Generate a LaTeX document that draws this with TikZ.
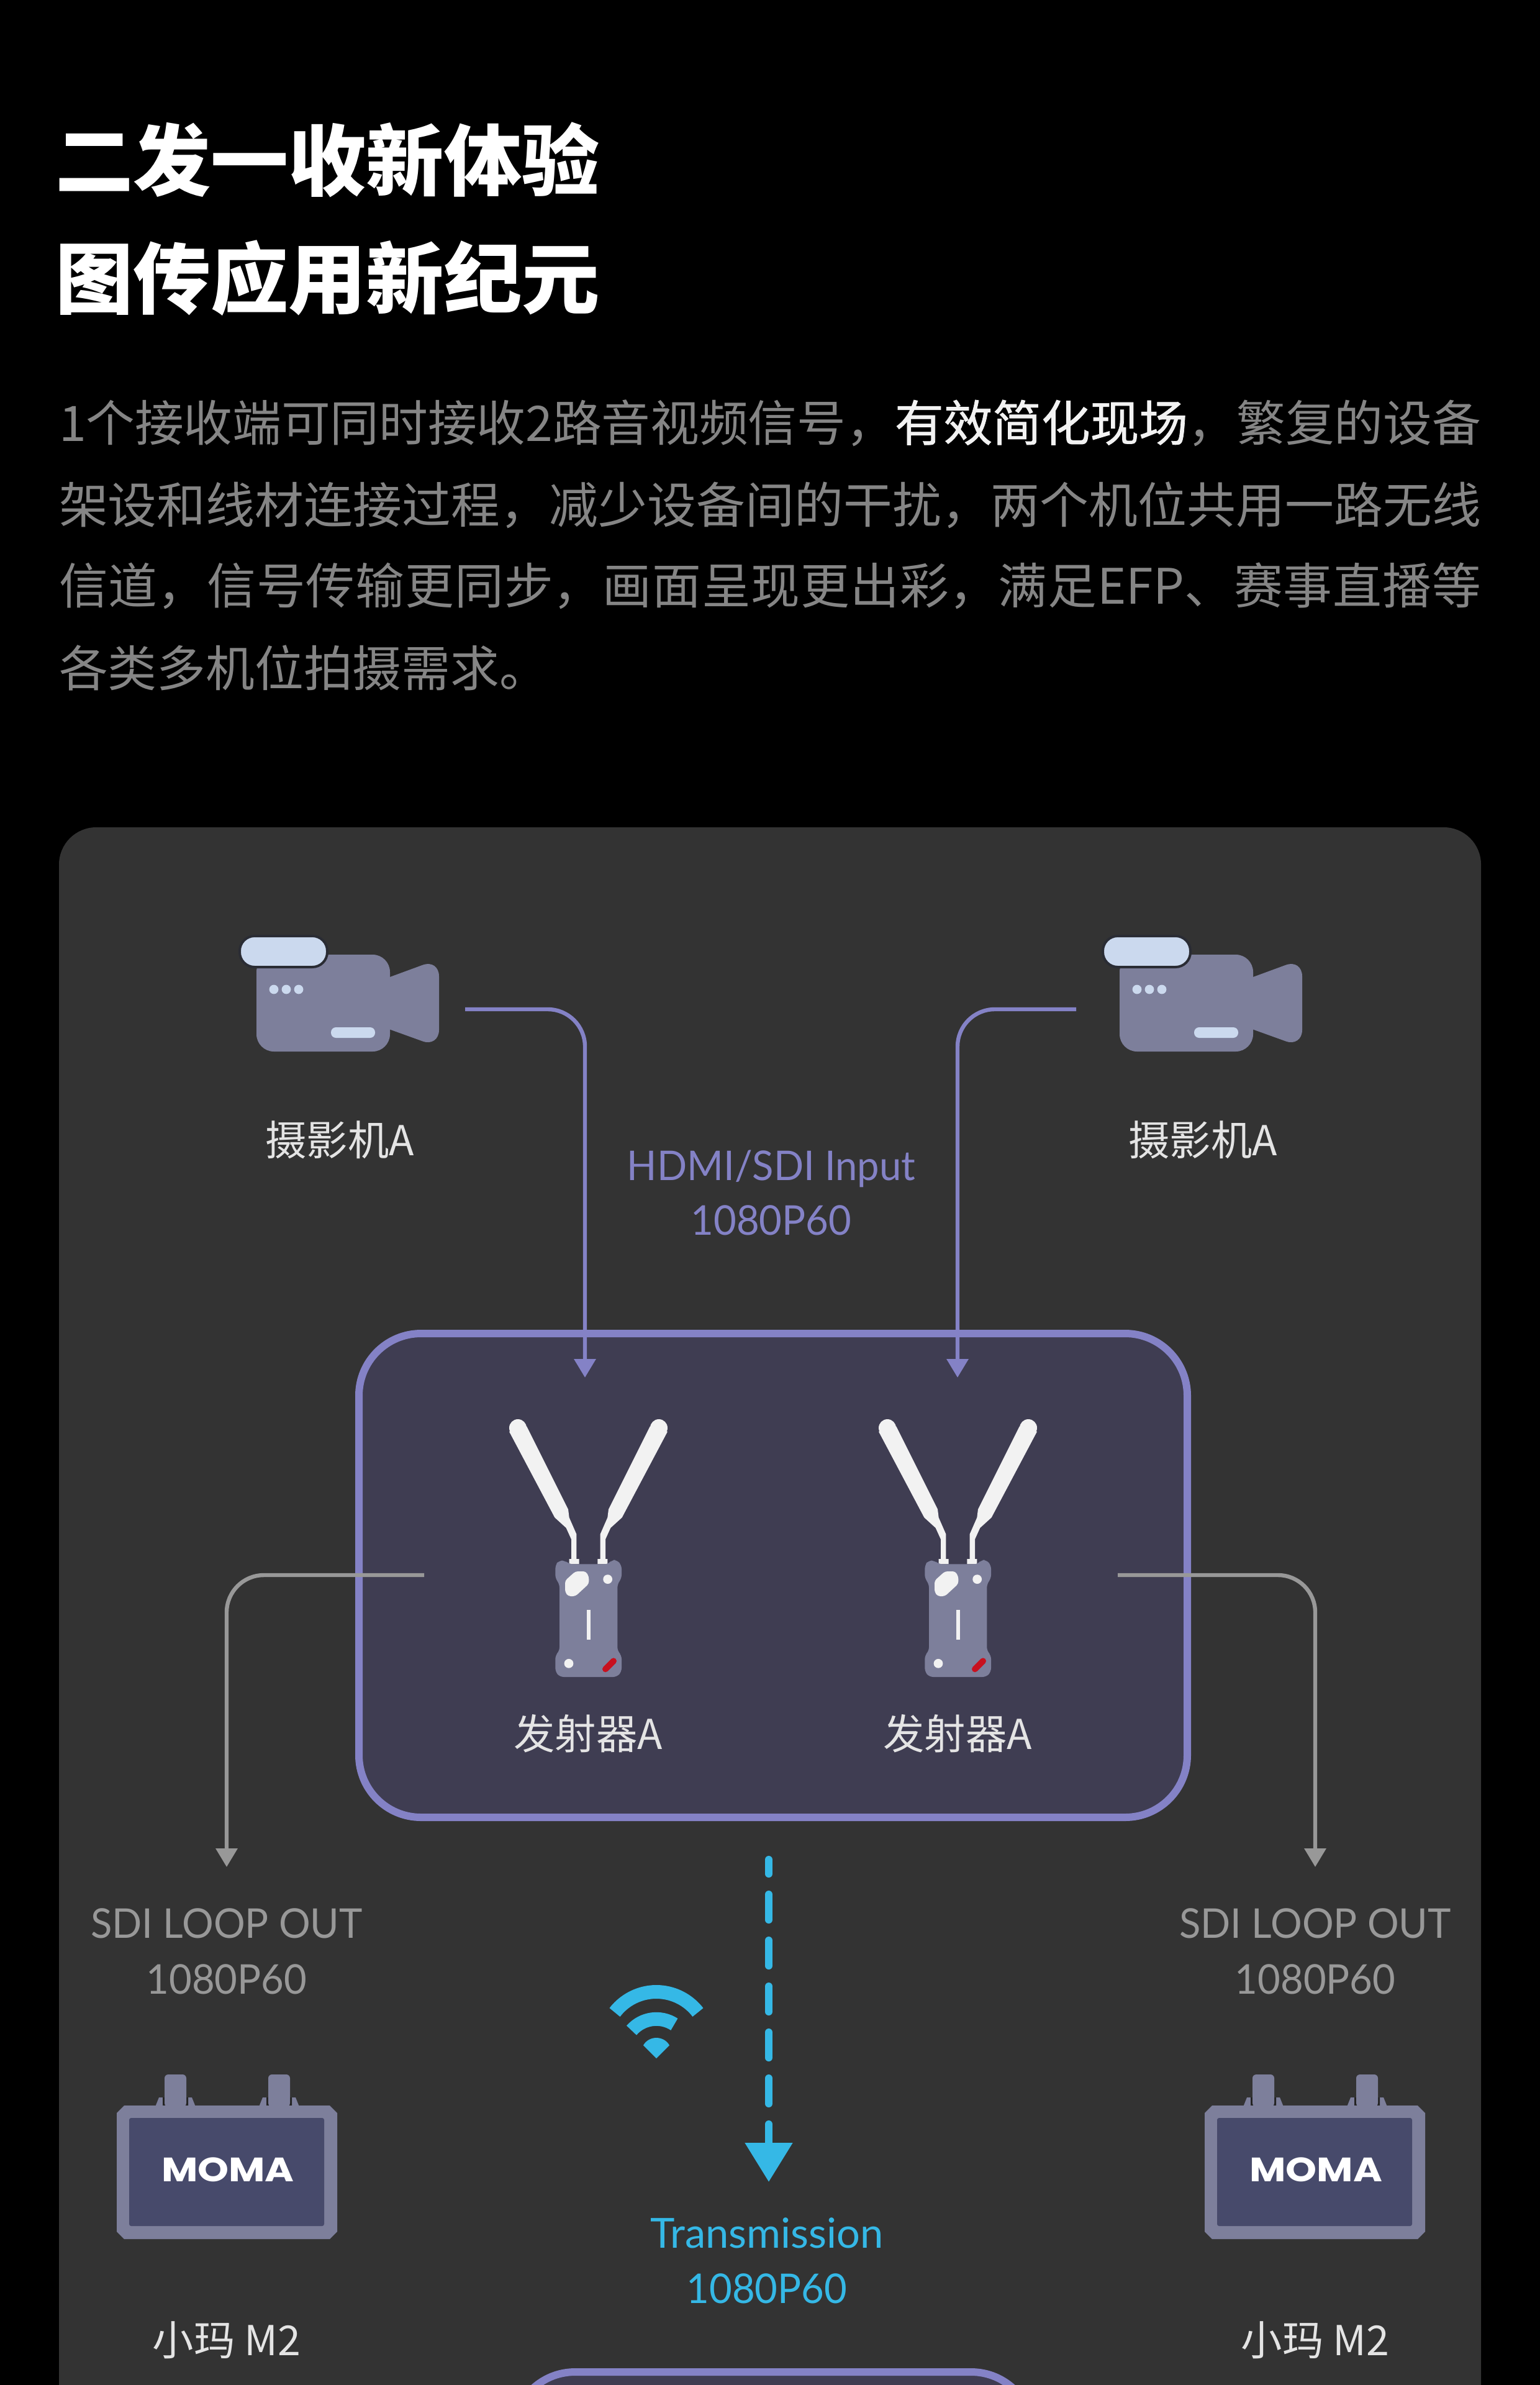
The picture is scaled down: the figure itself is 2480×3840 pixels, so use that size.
\documentclass[tikz,border=0pt]{standalone}
\usepackage{fontspec}
\usetikzlibrary{arrows.meta}
\setmainfont{Noto Sans CJK SC}
\newfontfamily\med[FakeBold=0.9]{Noto Sans CJK SC}
\newfontfamily\lat[FakeStretch=0.96]{Lato}
\newfontfamily\latw{Lato}
\newfontfamily\pop{Poppins}
\definecolor{panel}{HTML}{333333}
\definecolor{bodygrey}{HTML}{858585}
\definecolor{labelw}{HTML}{E4E4E4}
\definecolor{purp}{HTML}{8482C6}
\definecolor{boxfill}{HTML}{3F3D52}
\definecolor{greyl}{HTML}{989898}
\definecolor{sky}{HTML}{35B8E6}
\definecolor{dev}{HTML}{7D7F9B}
\definecolor{devlight}{HTML}{CBD9EE}
\definecolor{pillline}{HTML}{2A2C34}
\definecolor{momafill}{HTML}{474A6B}
\definecolor{antw}{HTML}{F2F2F2}
\definecolor{redm}{HTML}{C8101E}
\XeTeXlinebreaklocale "zh"
\XeTeXlinebreakskip=0pt plus 3pt minus 0.3pt
\newcommand{\bodyline}[1]{\parbox{572.5pt}{\parfillskip=0pt\noindent\fontsize{19.7pt}{24pt}\selectfont #1}}
\tikzset{
 every node/.style={inner sep=0pt,outer sep=0pt},
 titletext/.style={anchor=west,text=white,font=\fontsize{31.3pt}{36pt}\selectfont\bfseries},
 bodytext/.style={anchor=west,text=bodygrey},
 devlabel/.style={text=labelw,font=\fontsize{16.6pt}{20pt}\selectfont},
 purplabel/.style={text=purp,font=\lat\fontsize{16.5pt}{20pt}\selectfont},
 greylabel/.style={text=greyl,font=\lat\fontsize{16.5pt}{20pt}\selectfont},
 skylabel/.style={text=sky,font=\latw\fontsize{16.7pt}{20pt}\selectfont},
 purpflow/.style={draw=purp,line width=1.6pt,rounded corners=15pt,-{Triangle[width=8.5pt,length=7.5pt]}},
 greyflow/.style={draw=greyl,line width=1.6pt,rounded corners=15pt,-{Triangle[width=8.5pt,length=7.5pt]}},
 skyflow/.style={draw=sky,line width=3pt,line cap=round,dash pattern=on 10.25pt off 8.25pt,dash phase=4.5pt,-{Triangle[width=18.5pt,length=15.75pt]}},
 txbox/.style={draw=purp,fill=boxfill,line width=3pt,rounded corners=25pt},
}
% camera, coordinates in pixels of the reference
\newcommand{\CamIcon}[1]{\begin{scope}[shift={(#1,0)}]
 \fill[dev,rounded corners=7pt] (560,1598) -- (707,1544) -- (707,1686) -- (560,1633) -- cycle;
 \fill[dev,rounded corners=7pt] (413,1537) -- (628,1537) -- (628,1693) -- (413,1693) -- cycle;
 \fill[devlight,draw=pillline,line width=1pt,rounded corners=6pt] (386,1507) rectangle (527,1557);
 \fill[devlight] (441,1593) circle[radius=1.85pt] (461,1593) circle[radius=1.85pt] (481,1593) circle[radius=1.85pt];
 \fill[devlight,rounded corners=2pt] (533,1654) rectangle (604,1671);
\end{scope}}
% transmitter, coordinates in 1/3 pixels
\newcommand{\TxIcon}[1]{\begin{scope}[shift={(#1,2230)},x=0.08333pt,y=-0.08333pt]
 \foreach \m/\o in {1/0,-1/1005}{
 \begin{scope}[shift={(\o,0)},xscale=\m]
  \fill[antw] (120,225) -- (205,200) -- (405,600) -- (410,640) -- (445,720) -- (445,840) -- (458,840) -- (458,865) -- (410,865) -- (410,840) -- (420,840) -- (420,745) -- (395,690) -- (340,640) -- cycle;
  \fill[antw] (162,207) circle[radius=3.5pt];
 \end{scope}}
 \fill[dev,rounded corners=1.5pt] (343,870) -- (360,848) -- (390,848) -- (410,865) -- (600,865) -- (615,845) -- (640,845) -- (663,870) -- (663,935) -- (643,960) -- (643,1285) -- (663,1305) -- (663,1385) -- (640,1410) -- (365,1410) -- (343,1385) -- (343,1305) -- (363,1285) -- (363,960) -- (343,935) -- cycle;
 \fill[antw,rounded corners=1pt] (390,945) -- (440,900) -- (490,900) -- (505,925) -- (505,960) -- (440,1020) -- (405,1020) -- (390,1000) -- cycle;
 \fill[antw] (596,938) circle[radius=1.85pt] (408,1345) circle[radius=1.85pt];
 \fill[antw] (496,1085) rectangle (514,1230);
 \draw[redm,line width=2.5pt,line cap=round] (585,1372) -- (624,1333);
\end{scope}}
% recorder
\newcommand{\MomaIcon}[2]{\begin{scope}[shift={(#1,0)}]
 \foreach \p in {0,167}{
  \fill[dev] (250+\p,3392) -- (256+\p,3377) -- (309+\p,3377) -- (315+\p,3392) -- cycle;
  \fill[panel!70!black] (262+\p,3377) rectangle (266+\p,3392) (299+\p,3377) rectangle (303+\p,3392);
  \fill[dev,rounded corners=1.5pt] (265+\p,3392) -- (265+\p,3340) -- (300+\p,3340) -- (300+\p,3392) -- cycle;
 }
 \fill[dev] (200,3390) -- (531,3390) -- (543,3402) -- (543,3593) -- (531,3605) -- (200,3605) -- (188,3593) -- (188,3402) -- cycle;
 \fill[momafill,rounded corners=0.8pt] (208,3410) rectangle (522,3584);
 \node[text=white,font=\pop\bfseries\fontsize{13.6pt}{16pt}\selectfont] (#2) at (367,3493) {\scalebox{1.17}[1]{MOMA}};
\end{scope}}
\begin{document}
\begin{tikzpicture}[x=0.25pt,y=-0.25pt]
\useasboundingbox (0,0) rectangle (2480,3840);
\clip (0,0) rectangle (2480,3840);
\fill[black] (0,0) rectangle (2480,3840);
% heading
\node[titletext] (t1) at (89,257) {二发一收新体验};
\node[titletext] (t2) at (89,448) {图传应用新纪元};
\node[bodytext] (b1) at (95,681) {\bodyline{1个接收端可同时接收2路音视频信号，{\color{antw}\med 有效简化现场}，繁复的设备}};
\node[bodytext] (b2) at (95,813) {\bodyline{架设和线材连接过程，减少设备间的干扰，两个机位共用一路无线}};
\node[bodytext] (b3) at (95,943) {\bodyline{信道，信号传输更同步，画面呈现更出彩，满足EFP、赛事直播等}};
\node[bodytext,font=\fontsize{19.7pt}{24pt}\selectfont] (b4) at (95,1075) {各类多机位拍摄需求。};
% panel
\fill[panel,rounded corners=15pt] (95,1332) rectangle (2385,3960);
% cameras
\CamIcon{0}
\CamIcon{1390}
\node[devlabel] (camL) at (547,1835) {摄影机A};
\node[devlabel] (camR) at (1937,1835) {摄影机A};
\node[purplabel] (hdmi) at (1242,1882) {HDMI/SDI Input};
\node[purplabel] (hdmires) at (1242,1965) {1080P60};
% transmitter box
\node[txbox,minimum width=333.5pt,minimum height=194.75pt,anchor=north west] (tx) at (578,2147) {};
\TxIcon{780}
\TxIcon{1375}
\node[devlabel] (txL) at (947,2791) {发射器A};
\node[devlabel] (txR) at (1542,2791) {发射器A};
% connector ends
\coordinate (camLout) at (749,1625);
\coordinate (camRout) at (1733,1625);
\coordinate (txLin) at (942,2218);
\coordinate (txRin) at (1542,2218);
\coordinate (txLout) at (683,2536);
\coordinate (txRout) at (1800,2536);
\coordinate (sdiLin) at (365,3006);
\coordinate (sdiRin) at (2118,3006);
\draw[purpflow] (camLout) -| (txLin);
\draw[purpflow] (camRout) -| (txRin);
\draw[greyflow] (txLout) -| (sdiLin);
\draw[greyflow] (txRout) -| (sdiRin);
% outputs
\node[greylabel] (sdiL) at (365,3097) {SDI LOOP OUT};
\node[greylabel] (sdiLres) at (365,3187) {1080P60};
\node[greylabel] (sdiR) at (2118,3097) {SDI LOOP OUT};
\node[greylabel] (sdiRres) at (2118,3187) {1080P60};
\MomaIcon{0}{momaL}
\MomaIcon{1752}{momaR}
\node[devlabel] (mL) at (365,3768) {小玛 M2};
\node[devlabel] (mR) at (2118,3768) {小玛 M2};
% transmission
\coordinate (dashstart) at (1238,2994);
\coordinate (dashend) at (1238,3513);
\draw[skyflow] (dashstart) -- (dashend);
\draw[sky,line width=5.5pt] (990,3240) arc[start angle=142.5,delta angle=-105,radius=21.1pt];
\draw[sky,line width=5.5pt] (1017,3269) arc[start angle=139,delta angle=-82,radius=13.25pt];
\fill[sky] (1057,3314) -- (1036,3293) .. controls (1045,3277) and (1069,3277) .. (1078,3293) -- cycle;
\node[skylabel] (trans) at (1235,3595) {Transmission};
\node[skylabel,font=\lat\fontsize{16.5pt}{20pt}\selectfont] (transres) at (1235,3685) {1080P60};
% receiver box, cut by the page edge
\node[txbox,minimum width=209.5pt,minimum height=60pt,anchor=north west] (rx) at (826,3819) {};
\end{tikzpicture}
\end{document}
